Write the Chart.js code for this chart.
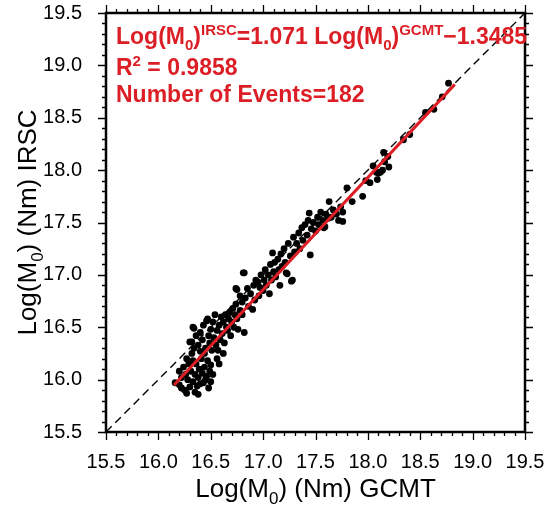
<!DOCTYPE html>
<html>
<head>
<meta charset="utf-8">
<script src="https://cdn.jsdelivr.net/npm/chart.js@4.4.1/dist/chart.umd.min.js"></script>
<style>
  html, body { margin: 0; padding: 0; background: #fff; }
  #wrap { width: 545px; height: 505px; }
</style>
</head>
<body>
<div id="wrap"><canvas id="scatterCanvas" width="545" height="505"></canvas></div>
<script>
const FONT = '"Liberation Sans", Arial, Helvetica, sans-serif';
const RED = '#dc1f26';

// axis range and tick labels (same on both axes)
const AXIS_MIN = 15.5;
const AXIS_MAX = 19.5;
const MAJOR_TICKS = [15.5, 16.0, 16.5, 17.0, 17.5, 18.0, 18.5, 19.0, 19.5];

// regression reported on the plot
const FIT_SLOPE = 1.071;
const FIT_INTERCEPT = -1.3485;
const FIT_R2 = 0.9858;
const FIT_RANGE = [16.15, 18.83];

// Log(M0) GCMT, Log(M0) IRSC pairs
const gcmt = [
  16.16, 16.20, 16.22, 16.25, 16.27, 16.28, 16.30, 16.31, 16.33, 16.35,
  16.35, 16.36, 16.37, 16.38, 16.39, 16.40, 16.41, 16.42, 16.43, 16.44,
  16.45, 16.46, 16.47, 16.48, 16.49, 16.50, 16.24, 16.27, 16.29, 16.32,
  16.34, 16.30, 16.26, 16.22, 16.38, 16.40, 16.44, 16.52, 16.50, 16.33,
  16.32, 16.33, 16.34, 16.36, 16.38, 16.40, 16.42, 16.43, 16.45, 16.46,
  16.47, 16.48, 16.49, 16.50, 16.51, 16.52, 16.53, 16.54, 16.55, 16.56,
  16.57, 16.58, 16.59, 16.60, 16.61, 16.62, 16.63, 16.64, 16.65, 16.66,
  16.67, 16.68, 16.69, 16.70, 16.71, 16.72, 16.73, 16.74, 16.75, 16.76,
  16.78, 16.80, 16.82, 16.56, 16.62,
  16.74, 16.75, 16.78, 16.80, 16.81, 16.82, 16.83, 16.85, 16.86, 16.88,
  16.90, 16.91, 16.92, 16.93, 16.95, 16.96, 16.97, 16.98, 17.00, 17.01,
  17.02, 17.03, 17.05, 17.06, 17.07, 17.08, 17.09, 17.10, 17.11, 17.12,
  17.14, 17.15, 17.16, 17.17, 17.18, 17.20, 17.21, 17.22, 17.23, 17.24,
  17.26, 17.27, 17.28, 17.29, 17.30,
  17.32, 17.34, 17.35, 17.37, 17.38, 17.40, 17.42, 17.43, 17.44, 17.45,
  17.46, 17.48, 17.50, 17.52, 17.53, 17.55, 17.57, 17.58, 17.59, 17.60,
  17.62, 17.63, 17.65, 17.67, 17.70, 17.72, 17.74, 17.76, 17.76, 17.80,
  17.95, 17.98, 18.02, 18.05, 18.08, 18.09, 18.10, 18.12, 18.14, 18.15,
  18.16, 18.19, 18.20, 18.34, 18.40, 18.55, 18.63, 18.71, 18.77,
  16.20, 16.58, 17.85,
];
const irsc = [
  15.97, 15.95, 16.02, 15.90, 15.87, 16.00, 15.93, 16.08, 15.98, 15.88,
  16.05, 16.15, 15.94, 16.02, 16.10, 15.96, 16.20, 16.06, 15.97, 16.12,
  16.00, 16.03, 16.18, 15.92, 16.08, 16.14, 16.12, 16.20, 16.15, 16.25,
  16.30, 16.36, 16.05, 15.92, 15.86, 16.27, 16.25, 16.05, 15.98, 16.18,
  16.36, 16.50, 16.49, 16.42, 16.33, 16.45, 16.38, 16.52, 16.30, 16.56,
  16.58, 16.42, 16.35, 16.48, 16.28, 16.55, 16.40, 16.62, 16.33, 16.47,
  16.28, 16.52, 16.38, 16.60, 16.44, 16.55, 16.35, 16.62, 16.50, 16.47,
  16.58, 16.64, 16.42, 16.55, 16.68, 16.50, 16.62, 16.72, 16.58, 16.48,
  16.66, 16.62, 16.45, 16.20, 16.25,
  16.87, 16.86, 16.80, 16.74, 17.02, 17.02, 16.78, 16.87, 16.70, 16.82,
  16.67, 16.90, 16.76, 16.95, 16.93, 16.80, 16.88, 17.00, 16.85, 16.95,
  17.05, 16.90, 17.00, 16.82, 17.10, 16.95, 17.21, 17.03, 17.12, 16.98,
  17.15, 17.05, 16.90, 17.20, 17.08, 17.25, 17.12, 17.02, 17.01, 17.30,
  17.18, 16.94, 16.95, 17.36, 17.22,
  17.30, 17.40, 17.25, 17.45, 17.33, 17.48, 17.38, 17.52, 17.59, 17.19,
  17.44, 17.50, 17.42, 17.55, 17.48, 17.60, 17.52, 17.45, 17.46, 17.58,
  17.54, 17.70, 17.55, 17.62, 17.58, 17.52, 17.65, 17.60, 17.51, 17.83,
  17.75, 17.90, 17.88, 18.04, 17.98, 17.91, 17.97, 17.98, 18.00, 18.17,
  18.08, 18.13, 18.03, 18.29, 18.34, 18.55, 18.58, 18.70, 18.83,
  16.08, 16.15, 17.70,
];

const eventPoints = gcmt.map((x, i) => ({ x, y: irsc[i] }));
const fitLine = FIT_RANGE.map(x => ({ x, y: FIT_SLOPE * x + FIT_INTERCEPT }));
const oneToOne = [AXIS_MIN, AXIS_MAX].map(v => ({ x: v, y: v }));

/**
 * Draws a run of text pieces, some of them sub- or superscript
 */
function drawRich(ctx, parts, x, y, size, weight, color, align) {
  const small = Math.round(size * 0.65);
  const fontOf = p => `${weight} ${p.s ? small : size}px ${FONT}`;
  let total = 0;
  parts.forEach(p => {
    ctx.font = fontOf(p);
    total += ctx.measureText(p.t).width;
  });
  let cx = align === 'center' ? x - total / 2 : x;
  ctx.fillStyle = color;
  ctx.textBaseline = 'alphabetic';
  ctx.textAlign = 'left';
  parts.forEach(p => {
    ctx.font = fontOf(p);
    let dy = 0;
    if (p.s === 'sub') dy = size * 0.28;
    if (p.s === 'sup') dy = -size * 0.4;
    ctx.fillText(p.t, cx, y + dy);
    cx += ctx.measureText(p.t).width;
  });
}

const xTitle = [{ t: 'Log(M' }, { t: '0', s: 'sub' }, { t: ') (Nm) GCMT' }];
const yTitle = [{ t: 'Log(M' }, { t: '0', s: 'sub' }, { t: ') (Nm) IRSC' }];
const equationText = [
  { t: 'Log(M' }, { t: '0', s: 'sub' }, { t: ')' }, { t: 'IRSC', s: 'sup' },
  { t: `=${FIT_SLOPE} Log(M` }, { t: '0', s: 'sub' }, { t: ')' }, { t: 'GCMT', s: 'sup' },
  { t: `\u2212${Math.abs(FIT_INTERCEPT)}` },
];
const r2Text = [{ t: 'R' }, { t: '2', s: 'sup' }, { t: ` = ${FIT_R2}` }];
const countText = [{ t: `Number of Events=${eventPoints.length}` }];

/**
 * Frame with outward major / minor ticks on all four sides, plus titles and labels
 */
const framePlugin = {
  id: 'framePlugin',
  afterDraw(chart) {
    const { ctx, chartArea: a, scales: { x, y } } = chart;
    ctx.save();
    ctx.strokeStyle = '#000';
    ctx.lineWidth = 1.3;
    ctx.beginPath();
    for (let i = 0; i <= 40; i++) {
      const v = AXIS_MIN + i * 0.1;
      const len = i % 5 === 0 ? 8 : 4;
      const px = Math.round(x.getPixelForValue(v)) + 0.5;
      const py = Math.round(y.getPixelForValue(v)) + 0.5;
      ctx.moveTo(px, a.bottom); ctx.lineTo(px, a.bottom + len);
      ctx.moveTo(px, a.top); ctx.lineTo(px, a.top - len);
      ctx.moveTo(a.left, py); ctx.lineTo(a.left - len, py);
      ctx.moveTo(a.right, py); ctx.lineTo(a.right + len, py);
    }
    ctx.stroke();

    ctx.lineWidth = 2.5;
    ctx.strokeRect(a.left, a.top, a.right - a.left, a.bottom - a.top);

    drawRich(ctx, xTitle, (a.left + a.right) / 2, 497, 26, 'normal', '#000', 'center');

    ctx.save();
    ctx.translate(36, (a.top + a.bottom) / 2);
    ctx.rotate(-Math.PI / 2);
    drawRich(ctx, yTitle, 0, 0, 26, 'normal', '#000', 'center');
    ctx.restore();

    drawRich(ctx, equationText, a.left + 10, 44, 23, 'bold', RED, 'left');
    drawRich(ctx, r2Text, a.left + 10, 75, 23, 'bold', RED, 'left');
    drawRich(ctx, countText, a.left + 10, 102, 23, 'bold', RED, 'left');
    ctx.restore();
  },
};

const tickOptions = {
  stepSize: 0.5,
  autoSkip: false,
  maxRotation: 0,
  color: '#000',
  font: { family: FONT, size: 20 },
  callback: v => (MAJOR_TICKS.includes(v) ? v.toFixed(1) : ''),
};

const ctx = document.getElementById('scatterCanvas').getContext('2d');

window.scatterRef = new Chart(ctx, {
  type: 'scatter',
  data: {
    datasets: [
      {
        label: 'fit',
        data: fitLine,
        showLine: true,
        borderColor: RED,
        borderWidth: 3,
        pointRadius: 0,
        order: 0,
      },
      {
        label: 'events',
        data: eventPoints,
        backgroundColor: '#000',
        borderWidth: 0,
        pointRadius: 3.4,
        order: 1,
      },
      {
        label: '1:1',
        data: oneToOne,
        showLine: true,
        borderColor: '#000',
        borderWidth: 1.4,
        borderDash: [8, 5],
        pointRadius: 0,
        order: 2,
      },
    ],
  },
  options: {
    responsive: false,
    animation: false,
    layout: { padding: { left: 0, top: 13, right: 20, bottom: 0 } },
    plugins: {
      legend: { display: false },
      tooltip: { enabled: false },
    },
    scales: {
      x: {
        type: 'linear',
        min: AXIS_MIN,
        max: AXIS_MAX,
        grid: { display: false },
        border: { display: false },
        ticks: { ...tickOptions, padding: 10 },
        afterFit(scale) {
          scale.height = 73;
          scale.paddingLeft = 0;
          scale.paddingRight = 0;
        },
      },
      y: {
        type: 'linear',
        min: AXIS_MIN,
        max: AXIS_MAX,
        grid: { display: false },
        border: { display: false },
        ticks: { ...tickOptions, padding: 16 },
        afterFit(scale) {
          scale.width = 106;
          scale.paddingTop = 0;
          scale.paddingBottom = 0;
        },
      },
    },
  },
  plugins: [framePlugin],
});
</script>
</body>
</html>
